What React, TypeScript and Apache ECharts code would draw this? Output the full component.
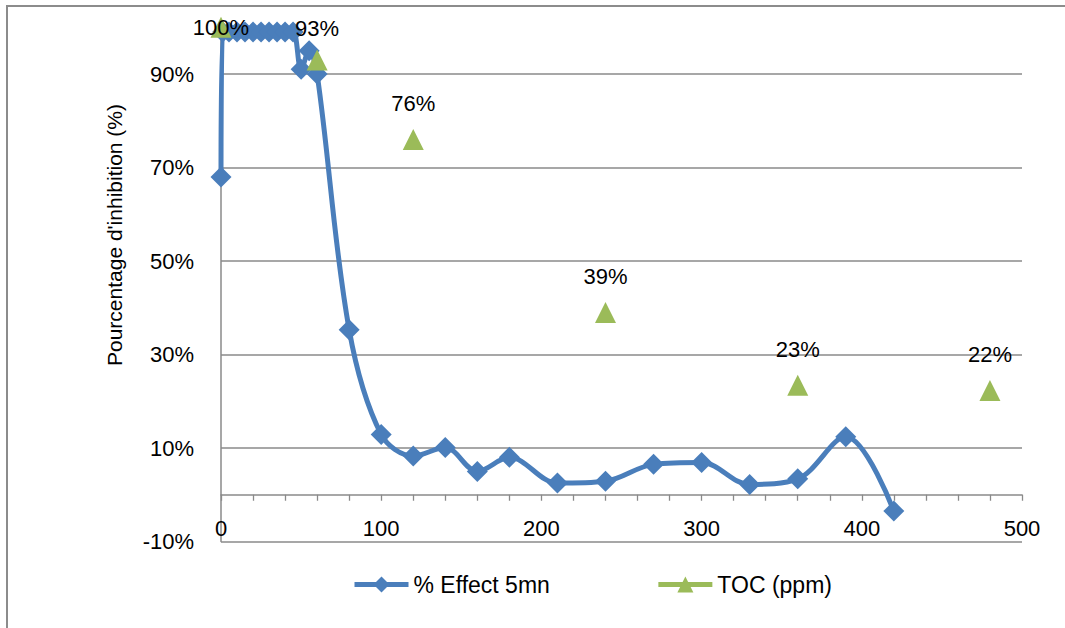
import React, { useEffect, useRef } from "react";
import * as echarts from "echarts";

const effectTimes = [0, 1, 5, 10, 15, 20, 25, 30, 35, 40, 45, 50, 55, 60, 80, 100, 120, 140, 160, 180, 210, 240, 270, 300, 330, 360, 390, 420];
const effectValues = [68, 99, 99, 99, 99, 99, 99, 99, 99, 99, 99, 91, 95, 90, 35.3, 12.9, 8.3, 10.1, 5, 8, 2.5, 2.9, 6.5, 6.9, 2.2, 3.4, 12.4, -3.5];

const tocTimes = [0, 60, 120, 240, 360, 480];
const tocValues = [100, 93, 76, 39, 23.4, 22.3];
const tocLabels = ["100%", "93%", "76%", "39%", "23%", "22%"];
const labelOffsets = [[0, 0], [0, -32], [0, -36], [0, -36], [0, -36], [0, -36]];

const seriesNames = ["% Effect 5mn", "TOC (ppm)"];
const yTitle = "Pourcentage d'inhibition (%)";

const FONT = "Liberation Sans";
const BLUE = "#4A7EBB";
const GREEN = "#9BBB59";
const GRID = "#8a8a8a";

export default function App() {
  const ref = useRef<HTMLDivElement>(null);
  useEffect(() => {
    if (!ref.current) return;
    const chart = echarts.init(ref.current, undefined, { renderer: "svg" });
    const option: any = {
      animation: false,
      textStyle: { fontFamily: FONT },
      grid: { left: 221, right: 43, top: 27.3, bottom: 86.5 },
      graphic: [
        {
          type: "rect",
          shape: { x: 7, y: 6, width: 1080, height: 640 },
          style: { fill: "none", stroke: "#8c8c8c", lineWidth: 2 },
          silent: true,
        },
        {
          type: "text",
          x: 114,
          y: 235,
          rotation: Math.PI / 2,
          style: {
            text: yTitle,
            font: `21px "${FONT}"`,
            fill: "#000",
            align: "center",
            verticalAlign: "middle",
          },
        },
      ],
      legend: {
        left: 347,
        top: 568,
        itemWidth: 54,
        itemHeight: 20,
        itemGap: 106,
        textStyle: { fontSize: 23, color: "#000", fontFamily: FONT },
        data: [
          { name: seriesNames[0], lineStyle: { color: BLUE, width: 5 } },
          {
            name: seriesNames[1],
            lineStyle: { color: GREEN, width: 5, opacity: 1 },
            itemStyle: { color: GREEN },
          },
        ],
      },
      xAxis: {
        type: "value",
        min: 0,
        max: 500,
        interval: 100,
        axisLine: { show: true, onZero: true, lineStyle: { color: GRID, width: 1.5 } },
        axisTick: { show: true, length: 6, lineStyle: { color: GRID, width: 1.3 } },
        minorTick: { show: true, splitNumber: 5, length: 6, lineStyle: { color: GRID, width: 1.3 } },
        splitLine: { show: false },
        axisLabel: { margin: -24, fontSize: 22, color: "#000", fontFamily: FONT },
      },
      yAxis: {
        type: "value",
        min: -10,
        max: 100,
        interval: 20,
        axisLine: { show: true, lineStyle: { color: GRID, width: 1.5 } },
        axisTick: { show: false },
        splitLine: { show: true, showMaxLine: false, lineStyle: { color: GRID, width: 1.5 } },
        axisLabel: {
          margin: 27,
          fontSize: 22,
          color: "#000",
          fontFamily: FONT,
          showMaxLabel: false,
          formatter: (v: number) => `${v}%`,
        },
      },
      series: [
        {
          name: seriesNames[0],
          type: "line",
          data: effectTimes.map((t, i) => [t, effectValues[i]]),
          smooth: 0.35,
          clip: false,
          symbol: "diamond",
          symbolSize: 21,
          lineStyle: { color: BLUE, width: 5 },
          itemStyle: { color: BLUE },
          emphasis: { disabled: true },
        },
        {
          name: seriesNames[1],
          type: "line",
          data: tocTimes.map((t, i) => ({
            value: [t, tocValues[i]],
            label: {
              show: true,
              position: "inside",
              offset: labelOffsets[i],
              formatter: tocLabels[i],
              fontSize: 22,
              color: "#000",
              fontFamily: FONT,
            },
          })),
          clip: false,
          symbol: "triangle",
          symbolSize: 21,
          lineStyle: { color: GREEN, width: 4, opacity: 0 },
          itemStyle: { color: GREEN },
          emphasis: { disabled: true },
          z: 3,
        },
      ],
    };
    chart.setOption(option);
    return () => chart.dispose();
  }, []);
  return (
    <div
      ref={ref}
      style={{ position: "absolute", left: 0, top: 0, width: 1065, height: 628, background: "#fff" }}
    />
  );
}
